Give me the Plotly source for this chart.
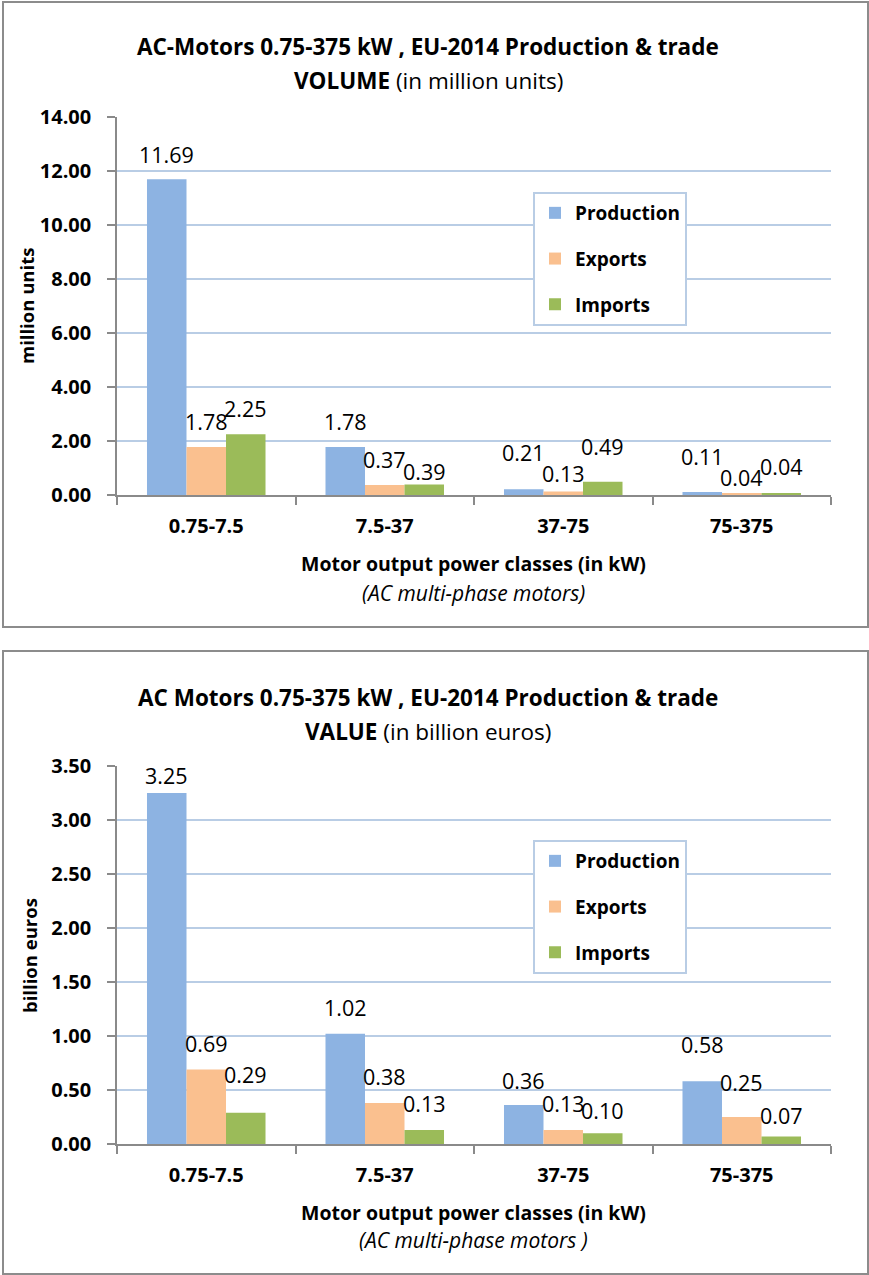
import plotly.graph_objects as go

categories = ["0.75-7.5", "7.5-37", "37-75", "75-375"]
series_names = ["Production", "Exports", "Imports"]
vol_production = [11.69, 1.78, 0.21, 0.11]
vol_exports = [1.78, 0.37, 0.13, 0.04]
vol_imports = [2.25, 0.39, 0.49, 0.04]
val_production = [3.25, 1.02, 0.36, 0.58]
val_exports = [0.69, 0.38, 0.13, 0.25]
val_imports = [0.29, 0.13, 0.10, 0.07]
vol_ticks = [0, 2, 4, 6, 8, 10, 12, 14]
val_ticks = [0, 0.5, 1.0, 1.5, 2.0, 2.5, 3.0, 3.5]

# style: pixel lift of each data label above its bar top (as placed in the original)
vol_label_lift = [[25, 25, 37, 36], [25, 26, 18, 16], [26, 13, 35, 27]]
val_label_lift = [[18, 26, 25, 37], [26, 26, 26, 35], [38, 26, 23, 21]]

colors = ["#8DB3E2", "#FAC08F", "#9BBB59"]
W, H = 869, 1275
FONT = "Open Sans"
GRID = "#B9CDE5"
AXIS = "#8A8A8A"


def px(x):
    return x / W


def py(y):
    return 1 - y / H


fig = go.Figure()

panels = [
    dict(xa="x", ya="y", leg="legend", data=[vol_production, vol_exports, vol_imports],
         lift=vol_label_lift),
    dict(xa="x2", ya="y2", leg="legend2", data=[val_production, val_exports, val_imports],
         lift=val_label_lift),
]

annotations = []
for pi, p in enumerate(panels):
    for si, (name, vals) in enumerate(zip(series_names, p["data"])):
        fig.add_trace(go.Bar(
            x=categories, y=vals, name=name, marker=dict(color=colors[si], line=dict(width=0)),
            xaxis=p["xa"], yaxis=p["ya"], legend=p["leg"], legendgroup=f"{name}{pi}",
            hoverinfo="skip",
        ))
        for ci, v in enumerate(vals):
            annotations.append(dict(
                x=categories[ci], y=v, xref=p["xa"], yref=p["ya"], text=f"{v:.2f}",
                showarrow=False, xshift=(si - 1) * 39.5, yshift=p["lift"][si][ci],
                yanchor="middle", font=dict(family=FONT, size=21.5, color="#000"),
            ))

axis_common_x = dict(
    type="category", showline=True, linecolor=AXIS, linewidth=1.5, ticks="outside",
    tickson="boundaries", ticklen=8, tickcolor=AXIS, tickwidth=1.5, showgrid=False,
    tickfont=dict(family=FONT, size=20, color="#000", weight="bold"), ticklabelstandoff=12,
    automargin=False,
)
axis_common_y = dict(
    showline=True, linecolor=AXIS, linewidth=1.5, ticks="outside", ticklen=8, tickcolor=AXIS,
    tickwidth=1.5, showgrid=True, gridcolor=GRID, gridwidth=2, zeroline=False,
    tickformat=".2f", tickfont=dict(family=FONT, size=20, color="#000", weight="bold"),
    ticklabelstandoff=12, automargin=False,
)

legend_common = dict(
    xanchor="left", yanchor="top", bgcolor="white", bordercolor=GRID, borderwidth=2,
    tracegroupgap=18, itemwidth=30,
    font=dict(family=FONT, size=19, color="#000", weight="bold"),
)

fig.update_layout(
    width=W, height=H, margin=dict(l=0, r=0, t=0, b=0, autoexpand=False),
    paper_bgcolor="white", plot_bgcolor="white", barmode="group", bargap=0.336, bargroupgap=0,
    font=dict(family=FONT, color="#000"),
    xaxis=dict(domain=[px(117), px(831)], anchor="y", **axis_common_x),
    yaxis=dict(domain=[py(495), py(117)], anchor="x", range=[0, 14], tickvals=vol_ticks,
               **axis_common_y),
    xaxis2=dict(domain=[px(117), px(831)], anchor="y2", **axis_common_x),
    yaxis2=dict(domain=[py(1144), py(766)], anchor="x2", range=[0, 3.5], tickvals=val_ticks,
                **axis_common_y),
    legend=dict(x=px(533), y=py(192), **legend_common),
    legend2=dict(x=px(533), y=py(840), **legend_common),
)

texts = [
    ("<b>AC-Motors 0.75-375 kW , EU-2014 Production &amp; trade</b>", 428, 46, 22.5, 0),
    ("<b>VOLUME</b> (in million units)", 428, 80, 22.5, 0),
    ("<b>Motor output power classes (in kW)</b>", 474, 563, 19.5, 0),
    ("<i>(AC multi-phase motors)</i>", 474, 593, 21, 0),
    ("<b>AC Motors 0.75-375 kW , EU-2014 Production &amp; trade</b>", 428, 697, 22.5, 0),
    ("<b>VALUE</b> (in billion euros)", 428, 731, 22.5, 0),
    ("<b>Motor output power classes (in kW)</b>", 474, 1212, 19.5, 0),
    ("<i>(AC multi-phase motors )</i>", 474, 1240, 21, 0),
    ("<b>million units</b>", 26, 306, 18.5, -90),
    ("<b>billion euros</b>", 29, 955, 18.5, -90),
]
for t, x, y, s, ang in texts:
    annotations.append(dict(text=t, x=px(x), y=py(y), xref="paper", yref="paper", showarrow=False,
                            xanchor="center", yanchor="middle", textangle=ang,
                            font=dict(family=FONT, size=s, color="#000")))

fig.update_layout(annotations=annotations)

fig.add_shape(type="rect", xref="paper", yref="paper", x0=px(3), x1=px(868), y0=py(627), y1=py(2),
              line=dict(color="#8C8C8C", width=2), fillcolor="rgba(0,0,0,0)", layer="below")
fig.add_shape(type="rect", xref="paper", yref="paper", x0=px(3), x1=px(868), y0=py(1274), y1=py(651),
              line=dict(color="#8C8C8C", width=2), fillcolor="rgba(0,0,0,0)", layer="below")

fig.write_html("out.html")
